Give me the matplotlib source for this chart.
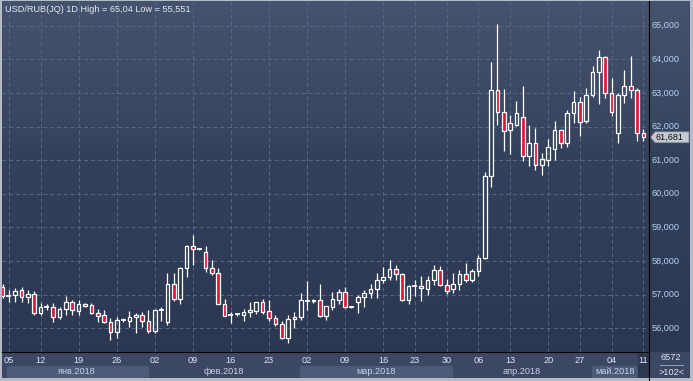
import numpy as np
import matplotlib.pyplot as plt
from matplotlib.patches import Rectangle, Polygon
from matplotlib.collections import LineCollection
from matplotlib.lines import Line2D
import matplotlib.transforms as mtrans

plt.rcParams['font.family'] = ['Liberation Sans', 'DejaVu Sans']

# ##### DATA ######

opens = [57.22, 56.96, 56.98, 57.14, 56.94, 57.02, 56.44, 56.62, 56.62, 56.34,
         56.56, 56.78, 56.52, 56.71, 56.68, 56.46, 56.38, 56.18, 55.88, 56.25,
         56.21, 56.33, 56.38, 56.21, 55.91, 56.54, 56.19, 57.31, 56.86, 57.79,
         58.45, 58.36, 58.27, 57.79, 57.64, 56.71, 56.39, 56.41, 56.39, 56.47,
         56.52, 56.77, 56.51, 56.31, 56.12, 55.72, 56.27, 56.34, 56.82, 56.80,
         56.84, 56.37, 56.64, 56.84, 57.07, 56.64, 56.79, 56.92, 57.04, 57.16,
         57.42, 57.52, 57.76, 57.61, 56.84, 57.26, 57.26, 57.17, 57.44, 57.74,
         57.29, 57.17, 57.31, 57.62, 57.42, 57.71, 58.09, 60.54, 63.08, 62.44,
         61.90, 62.04, 62.29, 61.12, 61.52, 60.85, 61.00, 61.34, 61.89, 61.50,
         62.41, 62.74, 62.18, 62.95, 63.61, 64.06, 63.01, 61.82, 62.93, 63.21,
         63.08, 61.82]
highs = [57.30, 57.14, 57.19, 57.21, 57.14, 57.11, 56.74, 56.71, 56.74, 56.62,
         56.96, 56.84, 56.84, 56.76, 56.74, 56.56, 56.54, 56.31, 56.34, 56.31,
         56.51, 56.45, 56.48, 56.54, 56.56, 56.62, 57.64, 57.64, 57.82, 58.48,
         58.78, 58.39, 58.45, 58.03, 57.79, 56.87, 56.49, 56.45, 56.56, 56.79,
         56.77, 56.87, 56.84, 56.39, 56.22, 56.39, 56.47, 57.06, 57.39, 56.86,
         57.32, 56.66, 57.09, 57.16, 57.22, 56.67, 56.99, 57.14, 57.32, 57.64,
         57.82, 58.04, 57.89, 57.64, 57.29, 57.44, 57.54, 57.54, 57.89, 57.86,
         57.46, 57.64, 57.74, 57.94, 57.76, 58.19, 60.65, 63.93, 65.04, 63.11,
         62.33, 62.76, 63.21, 62.04, 61.95, 61.20, 61.62, 62.18, 61.92, 62.48,
         63.05, 62.89, 63.16, 63.81, 64.27, 64.10, 63.46, 63.01, 63.68, 64.09,
         63.14, 61.92]
lows = [56.90, 56.79, 56.79, 56.79, 56.76, 56.39, 56.39, 56.53, 56.19, 56.27,
        56.39, 56.39, 56.39, 56.62, 56.41, 56.19, 56.15, 55.65, 55.70, 56.19,
        56.04, 55.87, 56.04, 55.85, 55.87, 56.22, 56.09, 56.82, 56.71, 57.52,
        57.89, 58.33, 57.66, 57.59, 56.71, 56.35, 56.16, 56.37, 56.22, 56.34,
        56.43, 56.42, 56.22, 56.07, 55.68, 55.551, 56.01, 56.25, 56.54, 56.76,
        56.34, 56.25, 56.54, 56.72, 56.59, 56.61, 56.46, 56.62, 56.89, 56.89,
        57.34, 57.42, 57.42, 56.82, 56.72, 56.96, 56.82, 56.99, 57.29, 57.24,
        57.02, 57.06, 57.14, 57.36, 57.37, 57.54, 58.06, 60.21, 62.04, 61.27,
        61.17, 62.01, 60.97, 60.82, 60.72, 60.55, 60.82, 61.00, 61.35, 61.40,
        62.12, 61.72, 62.12, 62.89, 62.66, 62.86, 62.31, 61.52, 62.71, 62.86,
        61.57, 61.57]
closes = [56.96, 56.96, 57.11, 56.94, 57.02, 56.44, 56.62, 56.62, 56.34, 56.56,
          56.78, 56.54, 56.72, 56.65, 56.46, 56.37, 56.18, 55.88, 56.25, 56.25,
          56.33, 56.39, 56.21, 55.91, 56.54, 56.54, 57.31, 56.86, 57.79, 58.45,
          58.35, 58.36, 57.79, 57.64, 56.71, 56.37, 56.39, 56.41, 56.47, 56.54,
          56.77, 56.49, 56.31, 56.12, 55.72, 56.27, 56.34, 56.84, 56.82, 56.84,
          56.37, 56.66, 56.86, 57.07, 56.64, 56.64, 56.92, 57.04, 57.16, 57.44,
          57.52, 57.76, 57.61, 56.84, 57.26, 57.26, 57.19, 57.44, 57.74, 57.29,
          57.12, 57.32, 57.62, 57.42, 57.71, 58.09, 60.54, 63.08, 62.44, 61.88,
          62.12, 62.41, 61.12, 61.52, 60.85, 61.02, 61.39, 61.89, 61.52, 62.41,
          62.74, 62.15, 62.95, 63.61, 64.06, 63.01, 62.44, 62.93, 63.21, 63.08,
          61.82, 61.681]

tick_pos = [1, 6, 12, 18, 24, 30, 36, 42, 48, 54, 60, 65, 70, 75, 80, 86, 91, 96, 101]
tick_labels = ['05', '12', '19', '26', '02', '09', '16', '23', '02', '09',
               '16', '23', '30', '06', '13', '20', '27', '04', '11']
month_edges = [0.68, 22.87, 46.85, 70.8, 92.95, 100.2]
month_labels = ['янв.2018', 'фев.2018', 'мар.2018', 'апр.2018', 'май.2018']
price_ticks = [56, 57, 58, 59, 60, 61, 62, 63, 64, 65]
last_price = 61.681
title = 'USD/RUB(JQ) 1D High = 65,04 Low = 55,551'

######################

W, H = 693, 381
x_lim = (-0.16, 101.89)
y_lim = (55.29, 65.737)
red = '#e0173d'


def box(x0, y0, x1, y1):
    # pixel box measured from the top-left corner -> figure fraction
    return [x0 / W, 1 - y1 / H, (x1 - x0) / W, (y1 - y0) / H]


def gradient(a, stops, colors):
    pos = np.linspace(0, 1, 256)
    rgb = np.array([[int(c[i:i + 2], 16) / 255 for i in (1, 3, 5)] for c in colors])
    img = np.stack([np.interp(pos, stops, rgb[:, k]) for k in range(3)], axis=-1)
    a.imshow(img[:, None, :], extent=(0, 1, 0, 1), transform=a.transAxes,
             aspect='auto', zorder=0, interpolation='bilinear')


fig = plt.figure(figsize=(6.93, 3.81), dpi=100, facecolor='#b5bcc8')
ax = fig.add_axes(box(1.5, 1, 649, 352))
ax_r = fig.add_axes(box(649, 1, 690, 352))
ax_b = fig.add_axes(box(1.5, 352, 649, 378))
ax_c = fig.add_axes(box(649, 352, 690, 378))

for a in (ax, ax_r, ax_b, ax_c):
    a.set_axis_off()
ax.set_xlim(x_lim)
ax.set_ylim(y_lim)
ax_r.set_xlim(0, 1)
ax_r.set_ylim(y_lim)
ax_b.set_xlim(x_lim)
ax_b.set_ylim(0, 1)
ax_c.set_xlim(0, 1)
ax_c.set_ylim(0, 1)

bg_stops = [0, 0.4, 0.42, 1]
bg_cols = ['#46536f', '#37445f', '#34415d', '#2c3852']
gradient(ax, bg_stops, bg_cols)
gradient(ax_r, bg_stops, bg_cols)
ax_b.add_patch(Rectangle((0, 0), 1, 1, transform=ax_b.transAxes, color='#3b4763', zorder=0))
ax_c.add_patch(Rectangle((0, 0), 1, 1, transform=ax_c.transAxes, color='#3b4763', zorder=0))

# grid
for p in price_ticks:
    ax.axhline(p, color='#56678a', lw=0.7, ls=(0, (4, 3)), zorder=1)
for t in tick_pos:
    ax.axvline(t, color='#56678a', lw=0.7, ls=(0, (4, 3)), zorder=1)

# <editor-fold desc="Candles">
o, h, l, c = (np.array(v) for v in (opens, highs, lows, closes))
x = np.arange(len(o))
top = np.maximum(o, c)
bot = np.minimum(o, c)
segs = [[(i, h[i]), (i, top[i])] for i in x] + [[(i, bot[i]), (i, l[i])] for i in x]
ax.add_collection(LineCollection(segs, colors='white', linewidths=0.9, zorder=3))
bw = 0.58
for i in x:
    if top[i] - bot[i] < 0.02:
        ax.plot([i - 0.4, i + 0.4], [c[i], c[i]], color='white', lw=1.3, zorder=4,
                solid_capstyle='butt')
    else:
        ax.add_patch(Rectangle((i - bw / 2, bot[i]), bw, top[i] - bot[i],
                               facecolor=red if c[i] < o[i] else 'none',
                               edgecolor='white', lw=0.9, zorder=4))
# </editor-fold>

fig.text(5 / W, 1 - 9 / H, title, color='#e4e9f1', fontsize=6.6, va='center', ha='left')

# price axis
for p in price_ticks:
    ax_r.text(0.07, p, f'{p:.3f}'.replace('.', ','), color='#b6cff0', fontsize=6.6,
              va='center', ha='left')
pr = mtrans.blended_transform_factory(ax_r.transAxes, ax_r.transData)
hh = 0.16
ax_r.add_patch(Polygon([(0.04, last_price), (0.15, last_price + hh), (0.975, last_price + hh),
                        (0.975, last_price - hh), (0.15, last_price - hh)],
                       closed=True, transform=pr, facecolor='#c6cad1', edgecolor='#8a92a2',
                       lw=0.6, zorder=3))
ax_r.text(0.17, last_price, f'{last_price:.3f}'.replace('.', ','), transform=pr,
          color='#111111', fontsize=6.6, va='center', ha='left', zorder=4)

# date axis
bt = mtrans.blended_transform_factory(ax_b.transData, ax_b.transAxes)
for k, lab in enumerate(month_labels):
    x0, x1 = month_edges[k], month_edges[k + 1]
    if k % 2 == 0:
        ax_b.add_patch(Rectangle((x0, 0), x1 - x0, 0.46, transform=bt,
                                 color='#4c5a78', zorder=1))
    ax_b.text((x0 + x1) / 2, 0.25, lab, transform=bt, color='#c9d3e4', fontsize=6.6,
              ha='center', va='center', zorder=3)
ax_b.add_patch(Rectangle((100.1, 0), 1.7, 1, transform=bt, color='#2c3750', zorder=2))
for t, lab in zip(tick_pos, tick_labels):
    ax_b.text(t, 0.68, lab, transform=bt, color='#dfe6f0', fontsize=6.6,
              ha='center', va='center', zorder=3)

# corner box
ax_c.text(0.54, 0.77, '6572', color='#dfe6f0', fontsize=6.6, ha='center', va='center')
ax_c.plot([0.27, 0.83], [0.49, 0.49], color='#aab4c6', lw=0.6)
ax_c.text(0.54, 0.22, '>102<', color='#dfe6f0', fontsize=6.6, ha='center', va='center')

# frame lines
fig.add_artist(Line2D([649 / W, 649 / W], [0, 1 - 1 / H], color='black', lw=0.8))
fig.add_artist(Line2D([1.5 / W, 649 / W], [1 - 352 / H, 1 - 352 / H], color='black', lw=0.8))

plt.savefig('out.png', dpi=100, facecolor=fig.get_facecolor())
plt.close()
